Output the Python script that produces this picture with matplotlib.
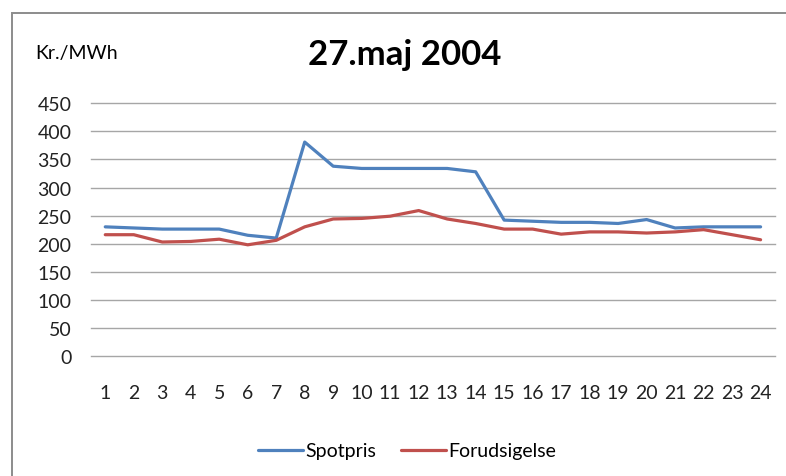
import matplotlib
matplotlib.use("Agg")
import matplotlib.pyplot as plt
from matplotlib.patches import Rectangle

plt.rcParams['font.family'] = ['Lato', 'DejaVu Sans']

####################################################### Data
hours = list(range(1, 25))
spotpris = [230, 228, 226, 226, 226, 215, 210, 381, 338, 334, 334, 334, 334, 328,
            242, 240, 238, 238, 236, 243, 228, 230, 230, 230]
forudsigelse = [216, 216, 203, 204, 208, 198, 206, 230, 244, 245, 249, 259, 244, 236,
                226, 226, 217, 221, 221, 219, 221, 225, 216, 207]
y_ticks = list(range(0, 451, 50))

####################################################### Figure
fig = plt.figure(figsize=(7.86, 4.77), dpi=100)
ax = fig.add_axes([0.1158, 0.2516, 0.870, 0.5297])

# chart frame (cut off on the right and bottom)
fig.patches.append(Rectangle((11.5 / 786, -0.05), 1.1, 1 - 13.5 / 477 + 0.05,
                             transform=fig.transFigure, fill=False,
                             edgecolor='#8c8c8c', linewidth=1.4))

ax.plot(hours, spotpris, color='#4F81BD', lw=2.3, label='Spotpris',
        solid_joinstyle='round', solid_capstyle='round')
ax.plot(hours, forudsigelse, color='#C0504D', lw=2.3, label='Forudsigelse',
        solid_joinstyle='round', solid_capstyle='round')

ax.set_xlim(0.5, 24.5)
ax.set_ylim(0, 450)
ax.set_xticks(hours)
ax.set_yticks(y_ticks)
ax.tick_params(axis='both', length=0, labelsize=14, colors='#222222')
ax.tick_params(axis='y', pad=14)
ax.tick_params(axis='x', pad=20)
ax.grid(axis='y', color='#a6a6a6', lw=1)
for gl in ax.get_ygridlines():
    gl.set_clip_on(False)  # keep 0 and 450 lines full width
ax.set_axisbelow(True)
for s in ax.spines.values():
    s.set_visible(False)

fig.text(405 / 786, 1 - 55 / 477, '27.maj 2004', fontsize=25, fontweight='bold',
         ha='center', va='center')
fig.text(35 / 786, 1 - 53 / 477, 'Kr./MWh', fontsize=14, ha='left', va='center')

fig.legend(loc='center', bbox_to_anchor=(407 / 786, 1 - 452 / 477), ncol=2, frameon=False,
           fontsize=14, handlelength=2.3, handletextpad=0.1, columnspacing=1.3)

fig.savefig('out.png', dpi=100)
